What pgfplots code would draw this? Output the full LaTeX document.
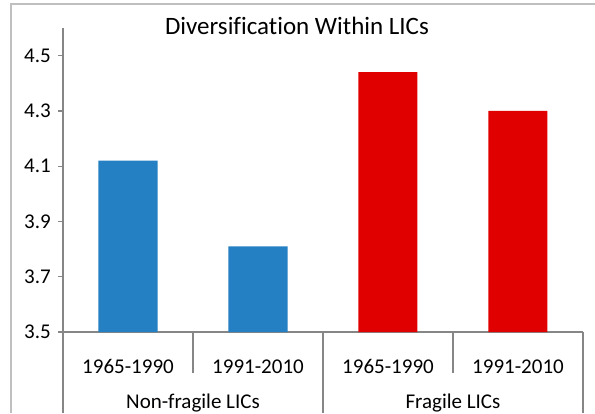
\documentclass[border=0pt]{standalone}
\usepackage{pgfplots}
\pgfplotsset{compat=1.18}
\usepackage{fontspec}
\setmainfont{Carlito}[Ligatures=NoCommon]
\definecolor{barblue}{HTML}{2480C3}
\definecolor{barred}{HTML}{E00000}
\definecolor{axgray}{HTML}{868686}
\definecolor{bordergray}{HTML}{BFBFBF}
\begin{document}
\begin{tikzpicture}[x=1pt,y=1pt]
\useasboundingbox (0,0) rectangle (595,413);
\draw[bordergray, line width=1.5pt] (11,0) -- (11,409) -- (595,409);
\node[anchor=base, font=\fontsize{25}{30}\selectfont] at (297,378) {Diversification Within LICs};
\begin{axis}[
  at={(63pt,81pt)}, anchor=south west,
  scale only axis, width=520pt, height=304pt,
  xmin=0, xmax=4, ymin=3.5, ymax=4.6,
  axis x line*=bottom, axis y line*=left,
  axis line style={axgray, line width=1.3pt, -},
  ybar, bar width=59pt, bar shift=0pt,
  ytick={3.5,3.7,3.9,4.1,4.3,4.5},
  xtick={0.5,1.5,2.5,3.5},
  xticklabels={1965-1990,1991-2010,1965-1990,1991-2010},
  xtick style={draw=none},
  ytick style={axgray, line width=1.3pt},
  tick align=outside, major tick length=5pt,
  /pgf/number format/assume math mode=true,
  tick label style={font=\fontsize{21}{25}\selectfont, text=black},
  yticklabel style={/pgf/number format/fixed, /pgf/number format/fixed zerofill, /pgf/number format/precision=1, anchor=east, inner sep=0pt, xshift=-7pt},
  xticklabel style={anchor=base, inner sep=0pt, yshift=-36pt},
  clip=false,
]
\addplot[fill=barblue, draw=none] coordinates {(0.5,4.12) (1.5,3.81)};
\addplot[fill=barred, draw=none] coordinates {(2.5,4.44) (3.5,4.30)};
\end{axis}
\draw[axgray, line width=1.3pt] (63,81) -- (63,0);
\draw[axgray, line width=1.3pt] (193,81) -- (193,40);
\draw[axgray, line width=1.3pt] (323,81) -- (323,0);
\draw[axgray, line width=1.3pt] (453,81) -- (453,40);
\draw[axgray, line width=1.3pt] (583,81) -- (583,0);
\node[anchor=base, font=\fontsize{21}{25}\selectfont] at (193,5) {Non-fragile LICs};
\node[anchor=base, font=\fontsize{21}{25}\selectfont] at (453,5) {Fragile LICs};
\end{tikzpicture}
\end{document}
